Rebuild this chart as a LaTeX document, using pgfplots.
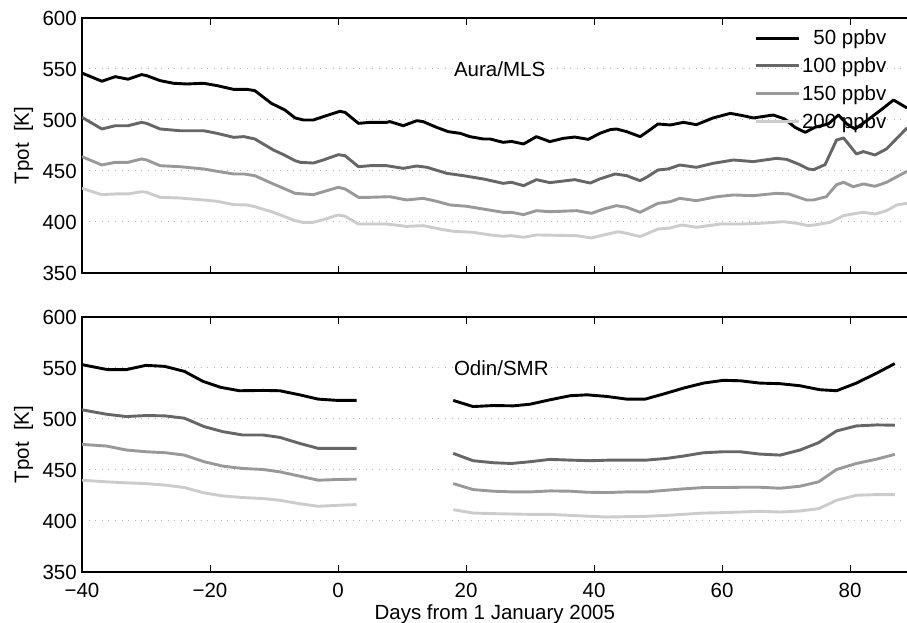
\documentclass[border=0pt]{standalone}
\usepackage{fontspec}
\setmainfont{Liberation Sans}
\usepackage{pgfplots}
\pgfplotsset{compat=1.18}
\definecolor{gA}{gray}{0}
\definecolor{gB}{gray}{0.4}
\definecolor{gC}{gray}{0.6}
\definecolor{gD}{gray}{0.8}
\pgfplotsset{
  myaxis/.style={
    scale only axis, width=825.6pt, height=255pt,
    xmin=-40, xmax=89, ymin=350, ymax=600,
    font=\fontsize{20.5}{24}\selectfont,
    /pgf/number format/assume math mode=true,
    axis line style={line width=1.2pt},
    xtick={-40,-20,0,20,40,60,80},
    ytick={350,400,450,500,550,600},
    tick align=inside,
    xtick pos=both,
    x tick style={line width=1pt, black},
    major tick length=7pt,
    y tick style={draw=none},
    ymajorgrids,
    major grid style={line width=1pt, gray!60, dash pattern=on 1pt off 5.6pt},
    yticklabel style={anchor=east, inner sep=0pt, xshift=-5pt},
    ylabel={Tpot\ \ [K]},
    every axis y label/.style={at={(axis description cs:0,0.5)}, rotate=90, anchor=center, yshift=58.5pt},
    unbounded coords=jump,
    every axis plot/.append style={line width=2.9pt, line join=round},
    legend image code/.code={\draw[#1, line width=2.9pt] (0pt,0pt) -- (43pt,0pt);},
  }
}
\begin{document}
\begin{tikzpicture}
\useasboundingbox (0,0) rectangle (907pt,623pt);
\begin{axis}[myaxis, at={(82pt,350pt)}, anchor=south west,
  xticklabels={},
  legend cell align=right,
  legend style={at={(axis description cs:0.977,0.962)}, anchor=north east, draw=none, fill=none, inner sep=0pt, row sep=7.5pt, font=\fontsize{20.5}{24}\selectfont},
]
\addplot[gA] coordinates {(-40,546) (-36.9,538) (-34.8,542.5) (-32.8,540) (-30.7,544.5) (-29.9,543.5) (-27.8,538.6) (-25.7,536) (-23.6,535.3) (-21.0,536) (-18.9,533.7) (-16.3,530) (-14.2,530) (-13.0,528.8) (-10.4,516.3) (-8.3,509.8) (-6.7,502) (-5.4,500) (-3.85,500) (-2.3,503.3) (0.3,508.5) (1.1,507.5) (3.2,496.7) (5.0,497.7) (7.6,497.7) (8.1,498.4) (10.2,494.4) (12.3,499.3) (13.3,498.4) (15.4,492.8) (17.2,488.6) (19.1,486.9) (20.6,483.7) (22.7,481.4) (23.75,481.4) (25.8,478.1) (27.1,479) (29.0,476.5) (31.0,483.7) (33.1,478.8) (35.2,482) (37.0,483.3) (39.1,481) (40.9,486.9) (42.5,490.5) (43.5,491.2) (45.1,488.6) (47.2,483.7) (48.2,487.9) (50.0,496.1) (51.9,495.1) (54.0,497.7) (56.0,495.4) (58.6,502) (61.3,506.5) (63.3,504.2) (64.9,502) (68.0,504.9) (69.8,501) (71.4,492.8) (73.0,487.9) (74.5,492.8) (76.6,496.1) (78.2,504.9) (79.5,496.1) (80.8,491.2) (82.6,499.3) (84.7,509.2) (86.8,519.6) (88.9,511.8)};
\addplot[gB] coordinates {(-40,502.6) (-36.9,491.2) (-34.8,494.4) (-32.8,494.4) (-30.7,497.7) (-29.9,496.7) (-27.8,491.2) (-24.7,489.5) (-21.0,489.5) (-18.9,486.9) (-16.3,483) (-14.7,483.7) (-13.0,481.4) (-10.1,470.6) (-8.5,466) (-6.7,460.1) (-5.9,458.5) (-3.85,457.8) (-2.3,460.8) (0.05,466) (1.1,465) (3.2,454.2) (5.0,455.2) (7.6,455.2) (10.2,452.6) (12.3,454.9) (13.9,453.6) (17.0,447.7) (19.6,445.4) (22.7,442.2) (25.8,437.9) (27.1,438.9) (29.0,435.6) (31.0,441.5) (33.1,438.6) (37.0,441.5) (39.4,438.2) (40.9,442.2) (43.3,447.1) (45.1,445.4) (47.2,440.5) (48.2,443.8) (50.0,451) (51.6,452) (53.4,455.9) (56.0,453.6) (58.6,457.5) (61.8,460.8) (64.9,459.2) (68.5,462.4) (70.1,461.4) (71.9,456.9) (73.5,452) (74.3,451.3) (76.1,456.2) (77.9,480.4) (79.0,482.4) (81.0,466.7) (82.1,469) (83.9,465.7) (85.7,471.6) (88.9,492.2)};
\addplot[gC] coordinates {(-40,464) (-36.9,455.9) (-34.8,458.5) (-32.8,458.5) (-30.7,461.8) (-29.9,460.8) (-27.8,455.2) (-24.7,454.2) (-21.0,452) (-18.9,449.7) (-16.3,447.1) (-14.7,447.1) (-13.0,445.4) (-10.1,437.3) (-6.7,428.1) (-5.4,427.5) (-3.85,426.8) (-2.3,429.7) (0.05,434) (1.1,432.4) (3.2,424.2) (5.0,424.2) (8.1,424.8) (10.7,421.6) (13.3,423.2) (15.4,420.3) (17.5,416.7) (20.1,415.4) (22.7,412.7) (25.8,409.5) (27.1,409.5) (29.0,407.2) (31.0,411.1) (33.1,410.1) (37.3,411.1) (39.6,408.5) (41.5,412.7) (43.5,416) (45.1,414.4) (47.2,409.5) (48.2,412.7) (50.0,418.3) (51.9,419.9) (53.4,423.2) (56.0,420.9) (59.2,424.8) (61.8,426.5) (64.9,425.8) (68.5,428.1) (70.4,427.5) (73.2,421.6) (74.3,421.6) (76.3,424.8) (77.9,436.6) (79.0,438.9) (80.5,434.6) (82.1,437.3) (83.9,435) (85.7,438.9) (88.9,449.7)};
\addplot[gD] coordinates {(-40,433) (-36.9,426.8) (-34.8,427.5) (-32.8,427.5) (-30.7,429.7) (-29.9,429.1) (-27.8,424.2) (-24.7,423.5) (-21.0,421.6) (-18.9,420.3) (-16.3,417) (-14.2,416.7) (-13.0,415) (-10.1,409.5) (-6.7,401.3) (-5.4,399.5) (-3.85,399.7) (-2.3,402.3) (0.05,406.9) (1.1,405.6) (3.2,398) (7.6,398) (10.7,395.7) (13.3,396.4) (15.9,393.1) (18.0,390.9) (21.1,389.9) (23.75,387.3) (25.8,386) (27.1,386.6) (29.0,385) (31.0,387.3) (37.3,386.6) (39.6,384.3) (41.5,387.3) (43.8,390.5) (45.1,388.9) (47.2,385.7) (48.2,388.3) (50.0,393.1) (51.9,394.1) (53.7,397.1) (56.0,394.8) (59.7,398) (62.8,398) (65.9,398.7) (69.6,400.3) (71.7,398.7) (73.5,396.4) (74.8,397.4) (76.9,399.7) (79.0,406.2) (81.0,408.5) (82.1,409.5) (83.9,407.8) (85.7,411.1) (87.3,416.7) (88.9,418.3)};
\legend{50 ppbv, 100 ppbv, 150 ppbv, 200 ppbv}
\node[anchor=west, inner sep=0pt] at (axis cs:18.1,550) {Aura/MLS};
\end{axis}
\begin{axis}[myaxis, at={(82pt,51pt)}, anchor=south west,
  xticklabels={−40,−20,0,20,40,60,80},
  xticklabel style={anchor=base, yshift=-26pt},
  xlabel={Days from 1 January 2005},
  every axis x label/.style={at={(axis description cs:0.5,0)}, anchor=base, yshift=-48pt},
]
\addplot[gA] coordinates {(-40,553.3) (-36.0,548.4) (-33.1,548.4) (-30.0,552.6) (-27.1,551.6) (-24.0,546.7) (-21.1,536.9) (-18.3,531) (-15.4,527.7) (-11.7,528) (-9.1,527.7) (-6.0,523.7) (-3.1,519.5) (0.0,518.2) (2.9,518.2) (10,nan) (18.0,518.2) (21.1,512.2) (24.3,513.2) (27.4,512.9) (30.0,514.5) (33.1,518.8) (36.25,522.8) (38.9,523.7) (42.0,522.1) (45.1,519.5) (48.0,519.5) (50.8,524.4) (54.0,530.3) (57.1,535.2) (60.2,537.9) (62.8,537.5) (65.9,535.2) (69.1,534.6) (72.2,532.6) (75.3,528.7) (77.9,527.7) (81.0,535.2) (84.2,545.1) (87.0,554.3)};
\addplot[gB] coordinates {(-40,509) (-36.2,504.7) (-33.1,502.4) (-30.0,503.4) (-27.1,503.1) (-24.0,500.8) (-20.9,492.5) (-18.0,487.6) (-14.9,484.3) (-11.7,484.3) (-9.1,482) (-6.0,476.1) (-3.1,471.2) (0.0,471.2) (2.9,471.2) (10,nan) (18.0,466.3) (21.1,459.1) (24.3,457.1) (27.1,456.4) (30.0,458.1) (33.1,460.4) (36.25,459.7) (39.4,459.1) (42.5,459.7) (48.2,459.7) (51.4,461.4) (54.0,463.7) (57.1,466.9) (60.2,467.9) (62.8,467.9) (65.9,465.6) (69.1,464.6) (72.2,469.6) (75.1,476.8) (77.9,488.3) (81.0,493.2) (84.2,494.2) (87.0,493.9)};
\addplot[gC] coordinates {(-40,475.1) (-36.2,473.5) (-33.1,469.6) (-30.0,467.9) (-26.9,466.9) (-24.0,464.6) (-20.9,458.1) (-18.0,453.8) (-14.9,451.5) (-11.7,450.5) (-9.1,448.2) (-6.0,444) (-3.1,440) (0.0,440.7) (2.9,441) (10,nan) (18.0,436.7) (21.1,430.8) (24.3,429.2) (27.4,428.5) (30.0,428.5) (33.1,429.5) (36.25,429.2) (38.9,428.2) (42.0,427.9) (45.1,428.5) (48.2,428.5) (51.4,430.2) (54.0,431.5) (57.1,432.8) (60.2,432.8) (63.3,433.1) (65.9,433.1) (69.1,432.1) (72.2,434.1) (75.1,438.4) (77.9,450.5) (81.0,456.4) (84.2,460.7) (87.0,465.3)};
\addplot[gD] coordinates {(-40,440) (-36.2,438.4) (-33.1,437.4) (-30.0,436.7) (-26.9,435.1) (-24.0,432.8) (-20.9,427.5) (-18.0,424.6) (-14.9,423) (-11.7,422) (-9.1,420.3) (-6.0,417) (-3.1,414.4) (0.0,415.4) (2.9,416.1) (10,nan) (18.0,411.1) (21.1,407.8) (24.3,407.2) (30.0,406.5) (33.1,406.5) (36.25,405.5) (42.0,403.9) (48.2,404.6) (51.4,405.5) (57.1,407.8) (60.2,408.2) (65.9,409.5) (69.1,408.8) (72.2,409.8) (75.1,412.1) (77.9,420.3) (81.0,425.2) (84.2,425.9) (87.0,425.9)};
\node[anchor=west, inner sep=0pt] at (axis cs:18.1,550) {Odin/SMR};
\end{axis}
\end{tikzpicture}
\end{document}
